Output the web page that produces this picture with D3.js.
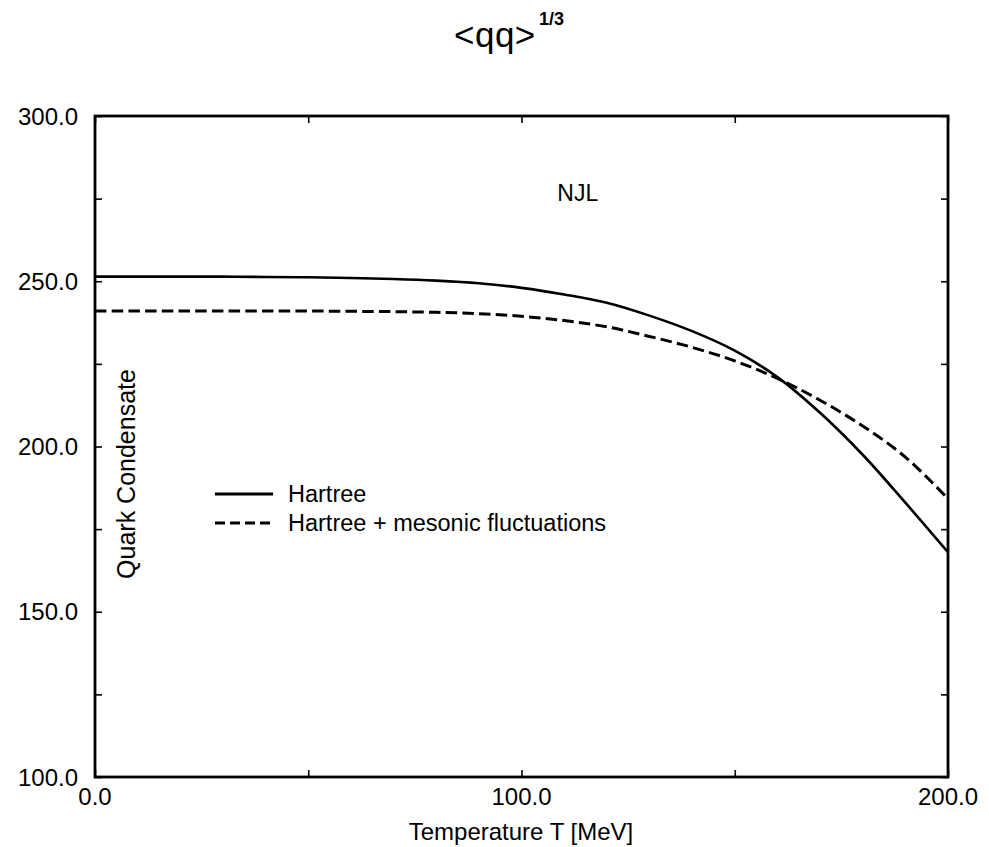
<!DOCTYPE html>
<html>
<head>
<meta charset="utf-8">
<script src="https://cdn.jsdelivr.net/npm/d3@7"></script>
<style>
  body { margin: 0; background: #fff; }
  text { font-family: "Liberation Sans", Arial, Helvetica, sans-serif; fill: #000; }
</style>
</head>
<body>
<svg id="svg1" width="989" height="847"></svg>
<script>
// temperature grid [MeV]
var temps = [0, 10, 20, 30, 40, 50, 60, 70, 80, 90, 100, 110, 120, 130, 140, 150, 160, 170, 180, 190, 200];
// <qq>^(1/3) [MeV], Hartree
var hartree = [251.4, 251.4, 251.4, 251.4, 251.3, 251.2, 251.0, 250.7, 250.2, 249.4, 248.0, 246.0, 243.5, 239.6, 234.9, 229.0, 221.0, 210.2, 197.5, 183.0, 168.0];
// Hartree + mesonic fluctuations
var mesonic = [241.0, 241.0, 241.0, 241.0, 241.0, 241.0, 240.9, 240.8, 240.6, 240.2, 239.4, 238.1, 236.2, 233.3, 230.0, 225.9, 220.6, 214.0, 206.2, 196.8, 184.2];

var xTicks = [0, 100, 200];
var yTicks = [100, 150, 200, 250, 300];
var xMinor = [0, 50, 100, 150, 200];
var yMinor = [100, 125, 150, 175, 200, 225, 250, 275, 300];

var svg1 = d3.select("#svg1"),
    margin = {top: 116, right: 41, bottom: 70, left: 95},
    width = +svg1.attr("width") - margin.left - margin.right,
    height = +svg1.attr("height") - margin.top - margin.bottom,
    g = svg1.append("g")
        .attr("transform", "translate(" + margin.left + "," + margin.top + ")");

var x = d3.scaleLinear().domain([0, 200]).range([0, width]);
var y = d3.scaleLinear().domain([100, 300]).range([height, 0]);

// inward ticks on all four sides
function tickSide(axis, vals) {
    return axis.tickValues(vals).tickSize(7).tickFormat("");
}
g.append("g").attr("transform", "translate(0," + height + ")")
    .call(tickSide(d3.axisTop(x), xMinor));
g.append("g")
    .call(tickSide(d3.axisBottom(x), xMinor));
g.append("g")
    .call(tickSide(d3.axisRight(y), yMinor));
g.append("g").attr("transform", "translate(" + width + ",0)")
    .call(tickSide(d3.axisLeft(y), yMinor));
g.selectAll(".domain").remove();
g.selectAll(".tick line").attr("stroke", "#000").attr("stroke-width", 1.6);

// frame
g.append("rect")
    .attr("width", width)
    .attr("height", height)
    .attr("fill", "none")
    .attr("stroke", "#000")
    .attr("stroke-width", 2.8);

// tick labels
g.append("g")
    .selectAll("text")
    .data(yTicks)
    .enter()
    .append("text")
    .attr("x", -17)
    .attr("y", function (d) { return y(d); })
    .attr("dy", "0.36em")
    .attr("text-anchor", "end")
    .attr("font-size", 24)
    .text(function (d) { return d3.format(".1f")(d); });

g.append("g")
    .selectAll("text")
    .data(xTicks)
    .enter()
    .append("text")
    .attr("x", function (d) { return x(d); })
    .attr("y", height + 28)
    .attr("text-anchor", "middle")
    .attr("font-size", 24)
    .text(function (d) { return d3.format(".1f")(d); });

// curves
var line = d3.line()
    .x(function (d) { return x(d[0]); })
    .y(function (d) { return y(d[1]); })
    .curve(d3.curveCatmullRom);

g.append("path")
    .datum(d3.zip(temps, hartree))
    .attr("fill", "none")
    .attr("stroke", "#000")
    .attr("stroke-width", 2.6)
    .attr("d", line);

g.append("path")
    .datum(d3.zip(temps, mesonic))
    .attr("fill", "none")
    .attr("stroke", "#000")
    .attr("stroke-width", 3)
    .attr("stroke-dasharray", "11.5,5.2")
    .attr("d", line);

// legend
var legend = g.append("g")
    .selectAll("g")
    .data([{label: "Hartree", dash: null}, {label: "Hartree + mesonic fluctuations", dash: "10,5"}])
    .enter()
    .append("g")
    .attr("transform", function (d, i) { return "translate(120," + (378 + i * 29) + ")"; });

legend.append("line")
    .attr("x1", 0)
    .attr("x2", 58)
    .attr("stroke", "#000")
    .attr("stroke-width", 2.8)
    .attr("stroke-dasharray", function (d) { return d.dash; });

legend.append("text")
    .attr("x", 73)
    .attr("dy", "0.36em")
    .attr("font-size", 23.5)
    .text(function (d) { return d.label; });

// NJL label
g.append("text")
    .attr("x", x(113.2))
    .attr("y", 85)
    .attr("text-anchor", "middle")
    .attr("font-size", 23)
    .text("NJL");

// axis titles
svg1.append("text")
    .attr("transform", "translate(135,474) rotate(-90)")
    .attr("text-anchor", "middle")
    .attr("font-size", 25)
    .text("Quark Condensate");

svg1.append("text")
    .attr("x", 521)
    .attr("y", 840)
    .attr("text-anchor", "middle")
    .attr("font-size", 24)
    .text("Temperature T [MeV]");

// title <qq>^(1/3)
svg1.append("text")
    .attr("x", 454)
    .attr("y", 47)
    .attr("font-size", 35)
    .attr("letter-spacing", 0.5)
    .text("<qq>");
svg1.append("text")
    .attr("x", 539)
    .attr("y", 25)
    .attr("font-size", 18)
    .attr("font-weight", "bold")
    .text("1/3");
</script>
</body>
</html>
